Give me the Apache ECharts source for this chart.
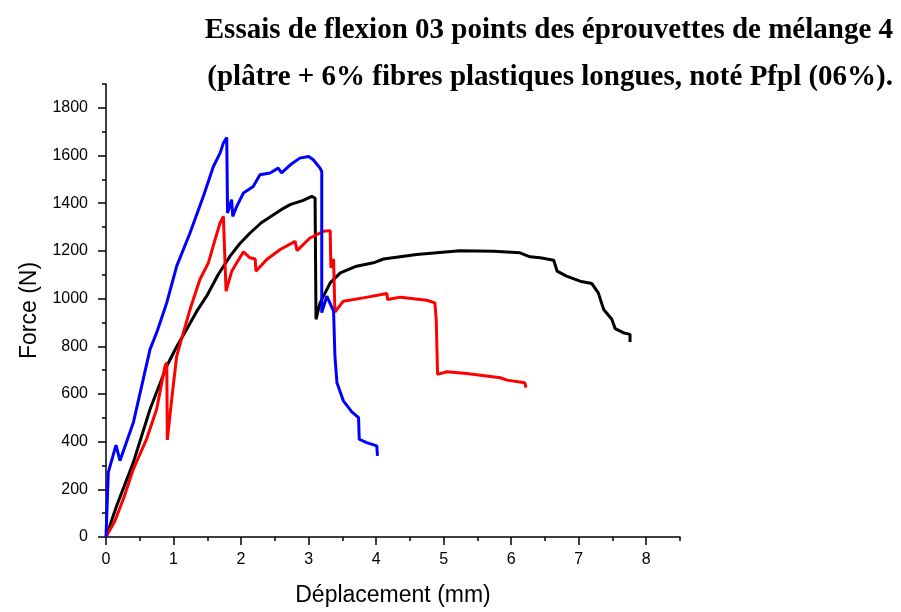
<!DOCTYPE html>
<html>
<head>
<meta charset="utf-8">
<script src="https://cdn.jsdelivr.net/npm/echarts@6/dist/echarts.min.js"></script>
<style>html,body{margin:0;padding:0;background:#fff}#c{width:901px;height:612px}</style>
</head>
<body>
<div id="c"></div>
<script>
var titleLine1 = "Essais de flexion 03 points des éprouvettes de mélange 4";
var titleLine2 = "(plâtre + 6% fibres plastiques longues, noté Pfpl (06%).";
var xName = "Déplacement (mm)";
var yName = "Force (N)";
var xTicks = [0,1,2,3,4,5,6,7,8];
var yTicks = [0,200,400,600,800,1000,1200,1400,1600,1800];

var blackX = [0,0.158,0.405,0.652,0.9,1.05,1.195,1.34,1.49,1.66,1.837,1.98,2.133,2.3,2.48,2.6,2.726,2.92,3.047,3.096,3.11,3.17,3.32,3.47,3.71,3.96,4.11,4.6,5.24,5.74,6.13,6.28,6.43,6.63,6.68,6.82,7.02,7.195,7.29,7.37,7.49,7.54,7.66,7.76,7.76];
var blackF = [0,131,313,536,717,800,871,945,1010,1100,1178,1230,1275,1318,1352,1374,1394,1412,1429,1422,913,982,1066,1108,1136,1150,1166,1185,1201,1199,1192,1175,1171,1161,1115,1094,1073,1063,1024,954,913,874,857,850,818];

var redX = [0,0.133,0.27,0.405,0.6,0.75,0.874,0.9,0.908,0.973,1.047,1.146,1.244,1.39,1.516,1.615,1.689,1.738,1.778,1.862,1.936,2.035,2.133,2.21,2.22,2.38,2.58,2.8,2.83,3.02,3.22,3.32,3.33,3.37,3.39,3.515,3.81,4.16,4.17,4.36,4.75,4.87,4.89,4.91,5.05,5.34,5.84,5.94,6.2,6.22];
var redF = [0,68,170,285,410,536,717,731,407,578,759,857,954,1080,1150,1247,1317,1345,1031,1115,1150,1196,1171,1166,1115,1164,1206,1240,1201,1254,1282,1285,1129,1166,943,989,1003,1021,996,1006,993,982,913,682,693,686,668,658,647,627];

var blueX = [0,0.034,0.148,0.207,0.405,0.652,0.75,0.899,1.047,1.244,1.442,1.59,1.689,1.738,1.788,1.80,1.86,1.877,1.936,2.035,2.18,2.28,2.43,2.55,2.6,2.73,2.87,3.0,3.07,3.17,3.195,3.195,3.27,3.37,3.39,3.42,3.515,3.64,3.74,3.75,3.86,4.01,4.02];
var blueF = [0,271,385,320,480,787,857,982,1136,1275,1429,1554,1610,1652,1676,1359,1415,1345,1387,1443,1470,1519,1527,1547,1527,1561,1589,1596,1582,1547,1533,941,1010,947,759,647,571,525,501,410,396,382,340];

function pairs(xs, ys){ return xs.map(function(x,i){ return [x, ys[i]]; }); }

var chart = echarts.init(document.getElementById('c'), null, {renderer:'canvas'});
var axisCol = '#000';
var labelFont = {color:'#000', fontSize:16, fontFamily:'Liberation Sans, Arial, sans-serif'};
var nameFont = {color:'#000', fontSize:23, fontFamily:'Liberation Sans, Arial, sans-serif'};
var titleFont = {color:'#000', fontSize:29, fontWeight:'bold', fontFamily:'Liberation Serif, Times New Roman, serif'};

chart.setOption({
  animation:false,
  backgroundColor:'#fff',
  title:[
    {text:titleLine1, right:8, top:16, padding:0, textStyle:titleFont},
    {text:titleLine2, right:8, top:63, padding:0, textStyle:titleFont}
  ],
  grid:{left:106, right:221, top:84, bottom:74, containLabel:false},
  xAxis:[
    {type:'value', min:0, max:8.5, interval:0.5, position:'bottom',
     name:xName, nameLocation:'middle', nameGap:47, nameTextStyle:nameFont,
     axisLine:{show:true, lineStyle:{color:axisCol, width:1.5}},
     axisTick:{show:true, inside:false, length:4, lineStyle:{color:axisCol, width:1.5}},
     axisLabel:{show:true, margin:15, formatter:function(v){ return xTicks.indexOf(v)>=0 ? String(v) : ''; }, ...labelFont},
     splitLine:{show:false}},
    {type:'value', min:0, max:8.5, position:'bottom', offset:0,
     axisLine:{show:false},
     axisTick:{show:true, inside:false, length:8, customValues:xTicks, lineStyle:{color:axisCol, width:1.5}},
     axisLabel:{show:false},
     splitLine:{show:false}}
  ],
  yAxis:[
    {type:'value', min:0, max:1900, interval:100, position:'left',
     name:yName, nameLocation:'middle', nameGap:62, nameTextStyle:nameFont,
     axisLine:{show:true, lineStyle:{color:axisCol, width:1.5}},
     axisTick:{show:true, inside:false, length:4, lineStyle:{color:axisCol, width:1.5}},
     axisLabel:{show:true, margin:18, formatter:function(v){ return yTicks.indexOf(v)>=0 ? String(v) : ''; }, ...labelFont},
     splitLine:{show:false}},
    {type:'value', min:0, max:1900, position:'left', offset:0,
     axisLine:{show:false},
     axisTick:{show:true, inside:false, length:8, customValues:yTicks, lineStyle:{color:axisCol, width:1.5}},
     axisLabel:{show:false},
     splitLine:{show:false}}
  ],
  series:[
    {type:'line', name:'noir', data:pairs(blackX, blackF), showSymbol:false, lineStyle:{color:'#000000', width:3}, itemStyle:{color:'#000'}, xAxisIndex:0, yAxisIndex:0, z:2},
    {type:'line', name:'rouge', data:pairs(redX, redF), showSymbol:false, lineStyle:{color:'#ff0000', width:3}, itemStyle:{color:'#f00'}, xAxisIndex:0, yAxisIndex:0, z:3},
    {type:'line', name:'bleu', data:pairs(blueX, blueF), showSymbol:false, lineStyle:{color:'#0000ff', width:3}, itemStyle:{color:'#00f'}, xAxisIndex:0, yAxisIndex:0, z:4}
  ]
});
</script>
</body>
</html>
